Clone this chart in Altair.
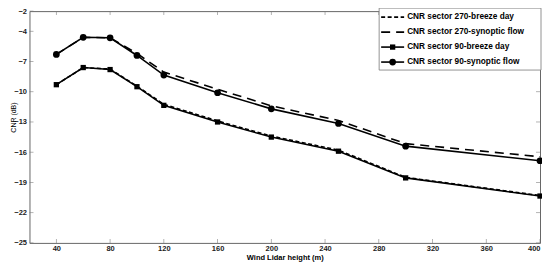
import altair as alt
import pandas as pd

heights = [40, 60, 80, 100, 120, 160, 200, 250, 300, 400]
breeze_270 = [-9.3, -7.6, -7.75, -9.45, -11.25, -12.9, -14.4, -15.8, -18.5, -20.3]
synoptic_270 = [-6.3, -4.6, -4.65, -6.2, -8.05, -9.75, -11.4, -12.85, -15.15, -16.45]
breeze_90 = [-9.3, -7.6, -7.8, -9.5, -11.35, -13.0, -14.5, -15.9, -18.55, -20.35]
synoptic_90 = [-6.3, -4.6, -4.65, -6.4, -8.35, -10.1, -11.7, -13.15, -15.4, -16.85]

series_names = [
    "CNR sector 270-breeze day",
    "CNR sector 270-synoptic flow",
    "CNR sector 90-breeze day",
    "CNR sector 90-synoptic flow",
]
x_ticks = [40, 80, 120, 160, 200, 240, 280, 320, 360, 400]
y_ticks = [-25, -22, -19, -16, -13, -10, -7, -4, -2]

W, H = 511, 232
FONT = "Liberation Sans"

xs = alt.Scale(domain=[20, 400], nice=False, zero=False)
ys = alt.Scale(domain=[-25, -2], nice=False, zero=False)

axX = alt.Axis(
    values=x_ticks, title="Wind Lidar height (m)", tickSize=0, labelPadding=2,
    labelFontSize=7.5, labelColor="#222", labelFont=FONT, labelFontWeight="bold",
    labelOverlap=False,
    titleFont=FONT, titleFontSize=7.5, titleFontWeight="bold", titlePadding=1,
    domain=False, grid=False)
axY = alt.Axis(
    values=y_ticks, title="CNR (dB)", tickSize=0, labelPadding=3,
    labelFontSize=7.5, labelColor="#222", labelFont=FONT, labelFontWeight="bold",
    labelOverlap=False, labelBound=False,
    titleFont=FONT, titleFontSize=7, titleFontWeight="normal",
    titleX=-16, titleY=106, titleBaseline="middle", domain=False, grid=False)

def frame(vals):
    return pd.DataFrame({"h": heights, "v": vals})

def X(f="h:Q"):
    return alt.X(f, scale=xs, axis=axX)

def Y(f="v:Q"):
    return alt.Y(f, scale=ys, axis=axY)

dashes = [[4, 2.5], [9, 6], None, None]
all_vals = [breeze_270, synoptic_270, breeze_90, synoptic_90]

layers = []
for vals, dash, name in zip(all_vals, dashes, series_names):
    kw = dict(color="black", strokeWidth=1.6)
    if dash:
        kw["strokeDash"] = dash
    layers.append(alt.Chart(frame(vals)).mark_line(**kw).encode(x=X(), y=Y()))

layers.append(alt.Chart(frame(breeze_90)).mark_point(
    shape="square", filled=True, color="black", size=28, opacity=1).encode(x=X(), y=Y()))
layers.append(alt.Chart(frame(synoptic_90)).mark_point(
    shape="circle", filled=True, color="black", size=45, opacity=1).encode(x=X(), y=Y()))

# inward ticks (box on both sides)
xt = pd.DataFrame({"t": x_ticks})
yt = pd.DataFrame({"t": y_ticks})
for yv in [H - 2, 2]:
    layers.append(alt.Chart(xt).mark_tick(orient="vertical", color="#777", thickness=0.8, size=4).encode(
        x=X("t:Q"), y=alt.value(yv)))
for xv in [2, W - 2]:
    layers.append(alt.Chart(yt).mark_tick(orient="horizontal", color="#777", thickness=0.8, size=4).encode(
        y=Y("t:Q"), x=alt.value(xv)))

# legend
lx0, lx1, ly0, ly1 = 350, 512, -3, 59
layers.append(alt.Chart(pd.DataFrame({"a": [0]})).mark_rect(
    fill="white", stroke="#777", strokeWidth=0.8).encode(
    x=alt.value(lx0), x2=alt.value(lx1), y=alt.value(ly0), y2=alt.value(ly1)))
row_y = [6, 21, 36, 51]
for i, name in enumerate(series_names):
    d = pd.DataFrame({"name": [name]})
    kw = dict(color="black", strokeWidth=1.6)
    if dashes[i]:
        kw["strokeDash"] = dashes[i]
    layers.append(alt.Chart(d).mark_rule(**kw).encode(
        x=alt.value(lx0 + 2), x2=alt.value(lx0 + 25), y=alt.value(row_y[i])))
    if i == 2:
        layers.append(alt.Chart(d).mark_point(shape="square", filled=True, color="black", size=28, opacity=1).encode(
            x=alt.value(lx0 + 13.5), y=alt.value(row_y[i])))
    if i == 3:
        layers.append(alt.Chart(d).mark_point(shape="circle", filled=True, color="black", size=45, opacity=1).encode(
            x=alt.value(lx0 + 13.5), y=alt.value(row_y[i])))
    layers.append(alt.Chart(d).mark_text(
        align="left", baseline="middle", font=FONT, fontSize=8.3, fontWeight="bold", color="black").encode(
        x=alt.value(lx0 + 28), y=alt.value(row_y[i]), text="name:N"))

chart = alt.layer(*layers).properties(
    width=W, height=H,
    autosize=alt.AutoSizeParams(type="none"),
    padding={"left": 21.5, "top": 3, "right": 2, "bottom": 20},
).configure_view(stroke="#666", strokeWidth=1).configure_axis(labelOverlap=False)

chart.save("out.html", embed_options={"renderer": "svg", "actions": False})
